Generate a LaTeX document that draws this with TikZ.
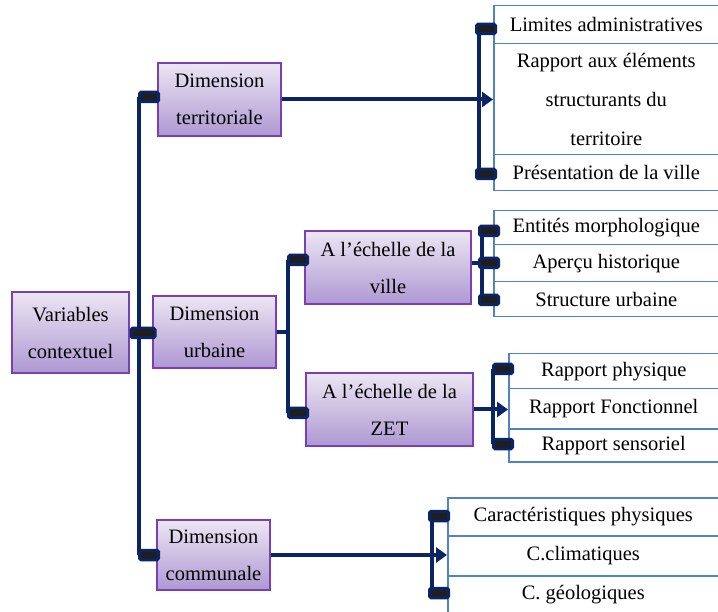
\documentclass[tikz,border=0pt]{standalone}
\usepackage{fontspec}
\setmainfont{Liberation Serif}
\usetikzlibrary{arrows.meta,backgrounds}

\definecolor{navy}{HTML}{0B2463}
\definecolor{knobfill}{HTML}{1E1E1E}
\definecolor{lilac}{HTML}{7B3FB5}
\definecolor{lilactop}{HTML}{ECE6F3}
\definecolor{lilacbot}{HTML}{AE98D2}
\definecolor{leafblue}{HTML}{4F81CD}

\tikzset{
  dim/.style={draw=lilac, line width=1.2pt, top color=lilactop, bottom color=lilacbot,
    align=center, inner sep=2pt, font=\fontsize{20.5}{37}\selectfont},
  leaf/.style={draw=leafblue, line width=1.5pt, fill=white, anchor=north west,
    align=center, inner sep=2pt, minimum width=225pt, font=\fontsize{20.5}{39}\selectfont},
  knob/.style={draw=navy, line width=3pt, fill=knobfill, rounded corners=1.5pt,
    minimum width=19pt, minimum height=9.5pt, inner sep=0pt},
  link/.style={draw=navy, line width=4pt},
  arr/.style={-{Triangle[length=11pt,width=15pt]}}
}

\begin{document}
\begin{tikzpicture}[x=1pt,y=-1pt]
	\useasboundingbox (0,0) rectangle (718,612);
	% main boxes
	\node[dim, minimum width=117pt, minimum height=81pt] (var) at (70.5,332.5) {Variables\\contextuel};
	\node[dim, minimum width=123pt, minimum height=73pt] (terr) at (219.5,99.5) {Dimension\\territoriale};
	\node[dim, minimum width=123pt, minimum height=72pt] (urb) at (214.5,332) {Dimension\\urbaine};
	\node[dim, minimum width=113pt, minimum height=70pt] (comm) at (213.5,555) {Dimension\\communale};
	\node[dim, minimum width=166pt, minimum height=73pt] (ville) at (388,267.5) {A l’échelle de la\\ville};
	\node[dim, minimum width=167pt, minimum height=73pt] (zet) at (389.5,409.5) {A l’échelle de la\\ZET};

	% leaves
	\node[leaf, minimum height=38pt] (lim) at (493,5) {Limites administratives};
	\node[leaf, minimum height=111pt] (rap) at (493,43) {Rapport aux éléments\\structurants du\\territoire};
	\node[leaf, minimum height=36pt] (pres) at (493,154) {Présentation de la ville};

	\node[leaf, minimum height=34pt] (ent) at (493,210) {Entités morphologique};
	\node[leaf, minimum height=37pt] (hist) at (493,244) {Aperçu historique};
	\node[leaf, minimum height=35pt] (struc) at (493,281) {Structure urbaine};

	\node[leaf, minimum width=210pt, minimum height=35pt] (phys) at (508,353) {Rapport physique};
	\node[leaf, minimum width=210pt, minimum height=40pt] (fonc) at (508,388) {Rapport Fonctionnel};
	\node[leaf, minimum width=210pt, minimum height=33pt] (sens) at (508,428) {Rapport sensoriel};

	\node[leaf, minimum width=271pt, minimum height=38pt] (car) at (447,497) {Caractéristiques physiques};
	\node[leaf, minimum width=271pt, minimum height=40pt] (clim) at (447,535) {C.climatiques};
	\node[leaf, minimum width=271pt, minimum height=37pt] (geo) at (447,575) {C. géologiques};

	% knobs
	\node[knob] (kt) at (149,97) {};
	\node[knob, minimum width=24pt] (kv) at (143,333) {};
	\node[knob] (kc) at (149,555) {};
	\node[knob] (ka) at (298,260) {};
	\node[knob] (kz) at (298,413) {};
	\node[knob] (m11) at (486,29) {};
	\node[knob] (m12) at (486,174) {};
	\node[knob] (m21) at (489,231) {};
	\node[knob] (m22) at (489,263) {};
	\node[knob] (m23) at (489,300) {};
	\node[knob] (m31) at (503,369) {};
	\node[knob] (m32) at (503,444) {};
	\node[knob] (m41) at (439,516) {};
	\node[knob] (m42) at (439,593) {};

	% connectors
	\begin{pgfonlayer}{background}
	\draw[link] ([xshift=-10pt]kt.center) -- ([xshift=-10pt]kc.center);
	\draw[link] (urb.east) -- ([xshift=-10pt]ka.center |- urb.east);
	\draw[link] ([xshift=-10pt]ka.center) -- ([xshift=-10pt]kz.center);

	\draw[link] ([xshift=-7pt]m11.center) -- ([xshift=-7pt]m12.center);
	\draw[link,arr] (terr.east) -- (terr.east -| rap.west);

	\draw[link] (ville.east |- m22) -- (m22);
	\draw[link] ([xshift=-7pt]m21.center) -- ([xshift=-7pt]m23.center);

	\draw[link] ([xshift=-10pt]m31.center) -- ([xshift=-10pt]m32.center);
	\draw[link,arr] (zet.east) -- (zet.east -| fonc.west);

	\draw[link] ([xshift=-7pt]m41.center) -- ([xshift=-7pt]m42.center);
	\draw[link,arr] (comm.east) -- (comm.east -| clim.west);
	\end{pgfonlayer}
\end{tikzpicture}
\end{document}
